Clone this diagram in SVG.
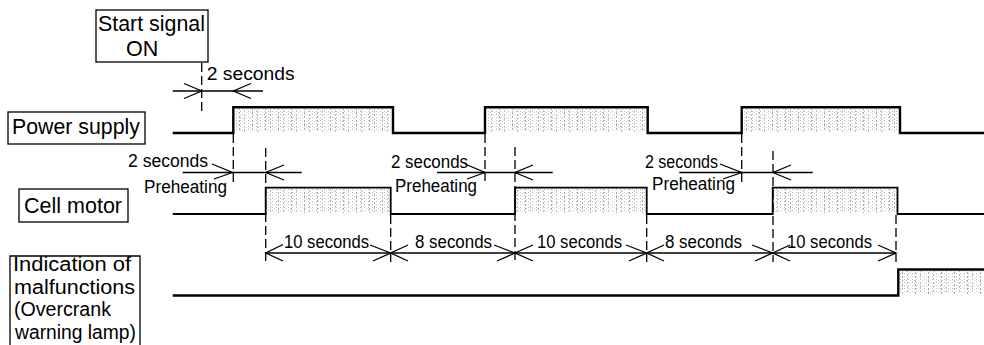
<svg xmlns="http://www.w3.org/2000/svg" width="984" height="345" viewBox="0 0 984 345">
<defs>
<pattern id="dots" width="4" height="3" patternUnits="userSpaceOnUse">
<rect width="4" height="3" fill="#ffffff"/>
<rect x="0" y="0" width="1" height="1" fill="#bdbdbd"/>
<rect x="2" y="1" width="1" height="1" fill="#dcdcdc"/>
</pattern>
<pattern id="vlines" width="13" height="4" patternUnits="userSpaceOnUse">
<rect x="5" y="0" width="1" height="2" fill="#a8a8a8"/>
<rect x="10" y="2" width="1" height="2" fill="#c0c0c0"/>
</pattern>
</defs>
<style>
.lbl{font-family:"Liberation Sans",Arial,sans-serif;font-size:21.5px;fill:#000}
.lbl2{font-family:"Liberation Sans",Arial,sans-serif;font-size:19.5px;fill:#000}
.sm{font-family:"Liberation Sans",Arial,sans-serif;font-size:17.5px;fill:#000}
.box{fill:#fff;stroke:#000;stroke-width:1.3}
.wave{fill:none;stroke:#000;stroke-width:2.4;stroke-linejoin:miter}
.wave2{fill:none;stroke:#000;stroke-width:1.8}
.dash{fill:none;stroke:#000;stroke-width:1.3;stroke-dasharray:9 4}
.dim{fill:none;stroke:#000;stroke-width:1.3}
.fill{fill:url(#dots)}
.fill2{fill:url(#vlines)}
</style>

<g id="start-signal">
<rect class="box" x="96" y="10" width="112" height="52"/>
<text class="lbl" x="98" y="31" textLength="107" lengthAdjust="spacingAndGlyphs">Start signal</text>
<text class="lbl" x="126" y="56">ON</text>
</g>

<g id="power-supply">
<rect class="box" x="8" y="112" width="137" height="32"/>
<text class="lbl" x="12" y="134" textLength="128" lengthAdjust="spacingAndGlyphs">Power supply</text>
<rect class="fill" x="235" y="109" width="157" height="23"/>
<rect class="fill2" x="235" y="109" width="157" height="23"/>
<rect class="fill" x="487" y="109" width="160" height="23"/>
<rect class="fill2" x="487" y="109" width="160" height="23"/>
<rect class="fill" x="743" y="109" width="156" height="23"/>
<rect class="fill2" x="743" y="109" width="156" height="23"/>
<path class="wave" d="M172.7,133 H233.3 V107.3 H393 V133 H485 V107.3 H647.7 V133 H741.7 V107.3 H900 V133 H984"/>
</g>

<g id="cell-motor">
<rect class="box" x="19" y="189" width="109" height="33"/>
<text class="lbl" x="24" y="213" textLength="98" lengthAdjust="spacingAndGlyphs">Cell motor</text>
<rect class="fill" x="267" y="189" width="123" height="24"/>
<rect class="fill2" x="267" y="189" width="123" height="24"/>
<rect class="fill" x="516" y="189" width="130" height="24"/>
<rect class="fill2" x="516" y="189" width="130" height="24"/>
<rect class="fill" x="774" y="189" width="123" height="24"/>
<rect class="fill2" x="774" y="189" width="123" height="24"/>
<path class="wave2" d="M172.7,214 H265.7 V187.7 H390.7 V214 H515 V187.7 H646.7 V214 H772.7 V187.7 H897.5 V214 H984"/>
</g>

<g id="malfunction-indication">
<path class="box" d="M10,345 V256 H140 V345"/>
<text class="lbl2" x="13" y="271" textLength="118" lengthAdjust="spacingAndGlyphs">Indication of</text>
<text class="lbl2" x="14" y="293.5" textLength="121" lengthAdjust="spacingAndGlyphs">malfunctions</text>
<text class="lbl2" x="14" y="316" textLength="97" lengthAdjust="spacingAndGlyphs">(Overcrank</text>
<text class="lbl2" x="15" y="338.5" textLength="121" lengthAdjust="spacingAndGlyphs">warning lamp)</text>
<rect class="fill" x="900" y="271" width="84" height="23"/>
<rect class="fill2" x="900" y="271" width="84" height="23"/>
<path class="wave" d="M172.7,295.5 H898.3 V269.5 H984"/>
</g>

<g id="connectors">
<path class="dash" d="M201.7,63 V113 M233.3,134 V184 M265.7,148 V262 M390.7,215 V262 M485,134 V181 M515,147 V262 M646.7,215 V262 M741.7,134 V184 M773,151 V262 M896,215 V262"/>
<path class="dim" d="M172.7,91 H263"/>
<path class="dim" d="M184,83.5 L201.7,91 L184,98.5 M251,83.5 L233.3,91 L251,98.5"/>
<path class="dim" d="M182.7,172.5 H301.7 M437,172.5 H552.7 M679.3,172.5 H812.7"/>
<path class="dim" d="M212,164 L232.5,172.5 L214,179 M284,165 L265.7,172.5 L284,180"/>
<path class="dim" d="M465,164 L485,172.5 L467,179 M533,165 L515,172.5 L533,180"/>
<path class="dim" d="M720,164 L741.7,172.5 L723,179 M791,165 L773,172.5 L791,180"/>
<path class="dim" d="M265.7,253 H896"/>
<path class="dim" d="M283,244.5 L265.7,253 L283,261"/>
<path class="dim" d="M370,245 L390.7,253 L373,261 M408,245 L390.7,253 L408,261"/>
<path class="dim" d="M494,245 L515,253 L497,261 M533,245 L515,253 L533,261"/>
<path class="dim" d="M626,245 L646.7,253 L629,261 M664,245 L646.7,253 L664,261"/>
<path class="dim" d="M752,245 L772.7,253 L755,261 M790,245 L772.7,253 L790,261"/>
<path class="dim" d="M878,245 L896,253 L878,261"/>
</g>

<g id="labels">
<text class="sm" x="206.7" y="80" textLength="88" lengthAdjust="spacingAndGlyphs">2 seconds</text>
<text class="sm" x="128" y="167" textLength="80" lengthAdjust="spacingAndGlyphs">2 seconds</text>
<text class="sm" x="144" y="193" textLength="83" lengthAdjust="spacingAndGlyphs">Preheating</text>
<text class="sm" x="391" y="168" textLength="77" lengthAdjust="spacingAndGlyphs">2 seconds</text>
<text class="sm" x="395" y="192" textLength="82" lengthAdjust="spacingAndGlyphs">Preheating</text>
<text class="sm" x="645" y="168" textLength="73" lengthAdjust="spacingAndGlyphs">2 seconds</text>
<text class="sm" x="652" y="190" textLength="83" lengthAdjust="spacingAndGlyphs">Preheating</text>
<text class="sm" x="284" y="248" textLength="85" lengthAdjust="spacingAndGlyphs">10 seconds</text>
<text class="sm" x="415" y="248" textLength="77" lengthAdjust="spacingAndGlyphs">8 seconds</text>
<text class="sm" x="537" y="248" textLength="85" lengthAdjust="spacingAndGlyphs">10 seconds</text>
<text class="sm" x="665" y="248" textLength="77" lengthAdjust="spacingAndGlyphs">8 seconds</text>
<text class="sm" x="787" y="248" textLength="85" lengthAdjust="spacingAndGlyphs">10 seconds</text>
</g>
</svg>
